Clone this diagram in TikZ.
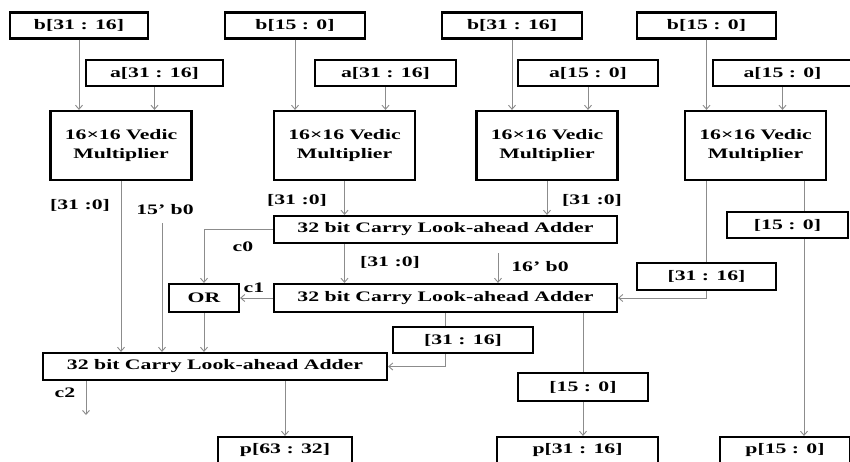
\documentclass[tikz,border=0pt]{standalone}
\usepackage{fontspec}
\usetikzlibrary{arrows.meta}
\newfontfamily\boxfont[FakeStretch=1.5]{Liberation Serif}
\tikzset{
  box/.style={draw, line width=2.2pt, inner sep=0pt, minimum height=26pt,
    font={\boxfont\bfseries\fontsize{14.5}{19}\selectfont}},
  mult/.style={box, minimum width=141pt, minimum height=69pt, align=center},
  adder/.style={box, minimum width=343pt, minimum height=27pt},
  lbl/.style={inner sep=0pt, font={\boxfont\bfseries\fontsize{14.5}{19}\selectfont}},
  line/.style={draw=black!45, line width=0.9pt},
  wire/.style={line, -{Straight Barb[length=4pt,width=7pt]}}
}
\begin{document}
\begin{tikzpicture}[x=1pt, y=-1pt]
      \useasboundingbox (0,0) rectangle (850,462);
      \fill[white] (0,0) rectangle (850,462);
      \clip (0,0) rectangle (850,462);

      % Inputs
      \node[box, minimum width=138pt] (b1) at (79,25.5) {b[31 : 16]};
      \node[box, minimum width=137pt] (a1) at (154.5,73) {a[31 : 16]};
      \node[box, minimum width=140pt] (b2) at (295,25.5) {b[15 : 0]};
      \node[box, minimum width=141pt] (a2) at (385.5,73) {a[31 : 16]};
      \node[box, minimum width=140pt] (b3) at (512,25.5) {b[31 : 16]};
      \node[box, minimum width=140pt] (a3) at (588,73) {a[15 : 0]};
      \node[box, minimum width=139pt] (b4) at (706.5,25.5) {b[15 : 0]};
      \node[box, minimum width=139pt] (a4) at (782.5,73) {a[15 : 0]};

      % Multipliers
      \node[mult] (m1) at (121,145.5) {16×16 Vedic\\Multiplier};
      \node[mult] (m2) at (344.5,145.5) {16×16 Vedic\\Multiplier};
      \node[mult] (m3) at (547,145.5) {16×16 Vedic\\Multiplier};
      \node[mult] (m4) at (755.5,145.5) {16×16 Vedic\\Multiplier};

      % Adders
      \node[adder] (add1) at (445.5,229.5) {32 bit Carry Look-ahead Adder};
      \node[adder, minimum height=28pt] (add2) at (445.5,298) {32 bit Carry Look-ahead Adder};
      \node[adder, minimum width=344pt] (add3) at (215,366.5) {32 bit Carry Look-ahead Adder};
      \node[box, minimum width=70pt, minimum height=28pt] (or) at (204,298) {OR};

      % Part selects
      \node[box, minimum width=140pt] (m3116) at (463,340) {[31 : 16]};
      \node[box, minimum width=139pt, minimum height=27pt] (r3116) at (706.5,276.5) {[31 : 16]};
      \node[box, minimum width=121pt] (r150) at (787.5,225) {[15 : 0]};
      \node[box, minimum width=130pt, minimum height=28pt] (m150) at (583,387) {[15 : 0]};

      % Outputs
      \node[box, minimum width=134pt] (p6332) at (285,450) {p[63 : 32]};
      \node[box, minimum width=161pt] (p3116) at (577.5,450) {p[31 : 16]};
      \node[box, minimum width=130pt] (p150) at (785,450) {p[15 : 0]};

      % Labels
      \node[lbl] (l1) at (80,205) {[31 :0]};
      \node[lbl] (l2) at (165,210) {15’ b0};
      \node[lbl] (l3) at (297,200) {[31 :0]};
      \node[lbl] (l4) at (592,200) {[31 :0]};
      \node[lbl] (l5) at (243,247) {c0};
      \node[lbl] (l6) at (390,262) {[31 :0]};
      \node[lbl] (l7) at (540,267) {16’ b0};
      \node[lbl] (l8) at (254,288) {c1};
      \node[lbl] (l9) at (65,393) {c2};

      \coordinate (z15) at (162,223);
      \coordinate (z16) at (498,253);
      \coordinate (z2) at (86,415);
      \coordinate (s4) at ([xshift=48.5pt]m4.south);

      % Multiplier inputs
      \foreach \i in {1,...,4} {
        \draw[wire] (b\i) -- (b\i |- m\i.north);
        \draw[wire] (a\i) -- (a\i |- m\i.north);
      }

      % Connections
      \draw[wire] (m2) -- (m2 |- add1.north);
      \draw[wire] (m3) -- (m3 |- add1.north);
      \draw[wire] (m2 |- add1.south) -- (m2 |- add2.north);
      \draw[wire] (z16) -- (z16 |- add2.north);
      \draw[wire] (add1.west) -| (or.north);
      \draw[wire] (add2.west) -- (or.east);
      \draw[line] (m4.south -| r3116) -- (r3116.north);
      \draw[wire] (r3116.south) |- (add2.east);
      \draw[line] (s4) -- (s4 |- r150.north);
      \draw[wire] (s4 |- r150.south) -- (s4 |- p150.north);
      \draw[line] (add2) -- (add2 |- m3116.north);
      \draw[wire] (add2 |- m3116.south) |- (add3.east);
      \draw[line] (m150 |- add2.south) -- (m150.north);
      \draw[wire] (m150) -- (m150 |- p3116.north);
      \draw[wire] (m1) -- (m1 |- add3.north);
      \draw[wire] (z15) -- (z15 |- add3.north);
      \draw[wire] (or) -- (or |- add3.north);
      \draw[wire] (p6332 |- add3.south) -- (p6332.north);
      \draw[wire] (z2 |- add3.south) -- (z2);
    \end{tikzpicture}
\end{document}
